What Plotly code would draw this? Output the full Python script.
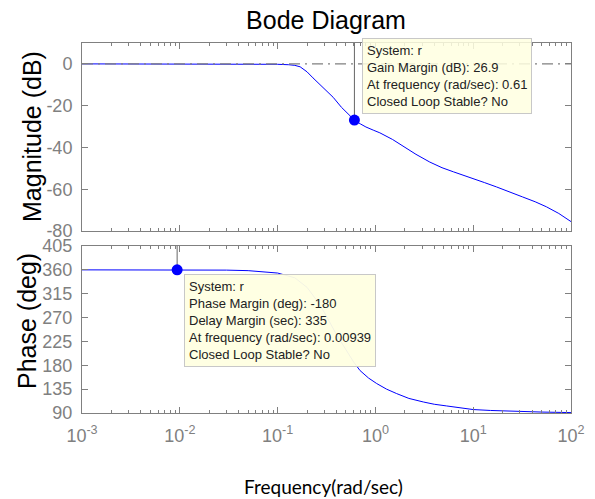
import plotly.graph_objects as go

# ---- data ----
mag_freq = [0.001, 0.01, 0.05, 0.1, 0.13, 0.15, 0.17, 0.2, 0.23, 0.27, 0.3, 0.37, 0.45, 0.53, 0.61,
            0.7, 0.8, 0.95, 1.11, 1.5, 1.93, 2.6, 3.6, 4.8, 6.3, 8, 10, 13, 17.3, 24, 32, 43, 56, 75, 100]
mag_db = [0, 0, 0, -0.2, -0.4, -0.7, -1.4, -3.8, -6.7, -9.7, -11.8, -16, -20.8, -24.2, -26.9,
          -28.7, -30.2, -31.7, -33, -36.2, -39.6, -43.3, -47, -49.7, -51.7, -53.3, -54.9, -56.8, -58.9,
          -61.3, -63.7, -66.0, -68.4, -71.6, -75.5]

ph_freq = [0.001, 0.00939, 0.02, 0.03, 0.05, 0.08, 0.1, 0.15, 0.2, 0.25, 0.3, 0.4, 0.5, 0.6,
           0.697, 0.85, 1.03, 1.3, 1.65, 2.2, 3.09, 4, 5.35, 7.5, 10, 15, 25, 50, 100]
ph_deg = [360, 360, 359.8, 359.5, 358.5, 356, 354, 345, 327, 303, 280, 238, 208, 186,
          170, 156, 145.6, 135, 126.6, 117.5, 110.8, 106.5, 103.3, 99.5, 96.5, 94.8, 93.3, 91.8, 90.8]

gm_freq, gm_db = 0.61, -26.9
pm_freq, pm_deg = 0.00939, 360

mag_range = [-80, 10]
mag_ticks = [-80, -60, -40, -20, 0]
mag_ticktext = ["-80", "-60", "-40", "-20", "0"]
ph_range = [90, 405]
ph_ticks = [90, 135, 180, 225, 270, 315, 360, 405]
x_ticks = [1e-3, 1e-2, 1e-1, 1e0, 1e1, 1e2]
x_ticktext = ["10<sup>-3</sup>", "10<sup>-2</sup>", "10<sup>-1</sup>", "10<sup>0</sup>",
              "10<sup>1</sup>", "10<sup>2</sup>"]
x_minor = [m * d for d in [1e-3, 1e-2, 1e-1, 1e0, 1e1] for m in range(2, 10)]

gm_text = ["System: r", "Gain Margin (dB): 26.9", "At frequency (rad/sec): 0.61",
           "Closed Loop Stable? No"]
pm_text = ["System: r", "Phase Margin (deg): -180", "Delay Margin (sec): 335",
           "At frequency (rad/sec): 0.00939", "Closed Loop Stable? No"]

# ---- figure ----
W, H = 595, 499
L, R, T, B = 82, 24, 43, 86
ph_h = 413 - 43
top_dom = [(413 - 231) / ph_h, 1]
bot_dom = [0, (413 - 246) / ph_h]

BLUE = "#0000ff"
GRAY = "#808080"
FONT = "Liberation Sans, Arial, sans-serif"

fig = go.Figure()
# magnitude
fig.add_trace(go.Scatter(x=mag_freq, y=mag_db, mode="lines", line=dict(color=BLUE, width=1),
                         xaxis="x", yaxis="y", showlegend=False))
fig.add_trace(go.Scatter(x=[x_ticks[0], x_ticks[-1]], y=[0, 0], mode="lines",
                         line=dict(color=GRAY, width=1.2, dash="11px,5px,2px,5px"),
                         xaxis="x", yaxis="y", showlegend=False))
fig.add_trace(go.Scatter(x=[gm_freq, gm_freq], y=[gm_db, mag_range[1]], mode="lines",
                         line=dict(color="#666666", width=1), xaxis="x", yaxis="y", showlegend=False))
fig.add_trace(go.Scatter(x=[gm_freq], y=[gm_db], mode="markers",
                         marker=dict(color=BLUE, size=11), xaxis="x", yaxis="y", showlegend=False))
# phase
fig.add_trace(go.Scatter(x=ph_freq, y=ph_deg, mode="lines", line=dict(color=BLUE, width=1),
                         xaxis="x2", yaxis="y2", showlegend=False))
fig.add_trace(go.Scatter(x=[pm_freq, pm_freq], y=[pm_deg, ph_range[1]], mode="lines",
                         line=dict(color="#666666", width=1), xaxis="x2", yaxis="y2", showlegend=False))
fig.add_trace(go.Scatter(x=[pm_freq], y=[pm_deg], mode="markers",
                         marker=dict(color=BLUE, size=11), xaxis="x2", yaxis="y2", showlegend=False))

axis_common = dict(showline=True, linecolor=GRAY, linewidth=1, mirror="ticks", ticks="inside",
                   tickcolor=GRAY, ticklen=6, showgrid=False, zeroline=False, automargin=False,
                   tickfont=dict(family=FONT, size=18, color=GRAY))
minor = dict(ticks="inside", ticklen=3, tickcolor=GRAY, showgrid=False, tickvals=x_minor)

fig.update_layout(
    width=W, height=H, margin=dict(l=L, r=R, t=T, b=B),
    paper_bgcolor="white", plot_bgcolor="white",
    font=dict(family=FONT),
    xaxis=dict(type="log", range=[-3, 2], domain=[0, 1], anchor="y", showticklabels=False,
               tickvals=x_ticks, minor=minor, **axis_common),
    yaxis=dict(domain=top_dom, range=mag_range, tickvals=mag_ticks, ticktext=mag_ticktext,
               anchor="x", ticklabelstandoff=5, **axis_common),
    xaxis2=dict(type="log", range=[-3, 2], domain=[0, 1], anchor="y2", tickvals=x_ticks,
                ticktext=x_ticktext, ticklabelstandoff=6, minor=minor, **axis_common),
    yaxis2=dict(domain=bot_dom, range=ph_range, tickvals=ph_ticks, anchor="x2", ticklabelstandoff=5,
                **axis_common),
    title=dict(text="Bode Diagram", x=326 / W, xref="container", xanchor="center",
               y=1 - 20 / H, yref="container", yanchor="middle",
               font=dict(family=FONT, size=25, color="black")),
)

def px_x(p):
    return (p - L) / (W - L - R)

def px_y(p):
    return (413 - p) / ph_h

annots = [
    dict(text="Magnitude (dB)", x=px_x(32), y=px_y(137), textangle=-90,
         font=dict(family=FONT, size=25, color="black")),
    dict(text="Phase (deg)", x=px_x(27), y=px_y(321), textangle=-90,
         font=dict(family=FONT, size=25, color="black")),
    dict(text="Frequency(rad/sec)", x=px_x(323), y=px_y(486),
         font=dict(family="Lato, Noto Sans, sans-serif", size=19, color="black")),
    dict(text="<br>".join(gm_text), x=px_x(362), y=px_y(38), xanchor="left", yanchor="top",
         align="left", bgcolor="rgba(255,255,225,0.85)", bordercolor="#c8c8c8", borderwidth=1,
         borderpad=4, font=dict(family=FONT, size=13, color="#222222")),
    dict(text="<br>".join(pm_text), x=px_x(184), y=px_y(274), xanchor="left", yanchor="top",
         align="left", bgcolor="rgba(255,255,225,0.95)", bordercolor="#c8c8c8", borderwidth=1,
         borderpad=4, font=dict(family=FONT, size=13, color="#222222")),
]
for a in annots:
    a.setdefault("xanchor", "center")
    a.setdefault("yanchor", "middle")
    fig.add_annotation(xref="paper", yref="paper", showarrow=False, **a)

fig.write_html("out.html", config={"displayModeBar": False},
               post_script="document.body.style.margin='0';document.body.style.overflow='hidden';")
